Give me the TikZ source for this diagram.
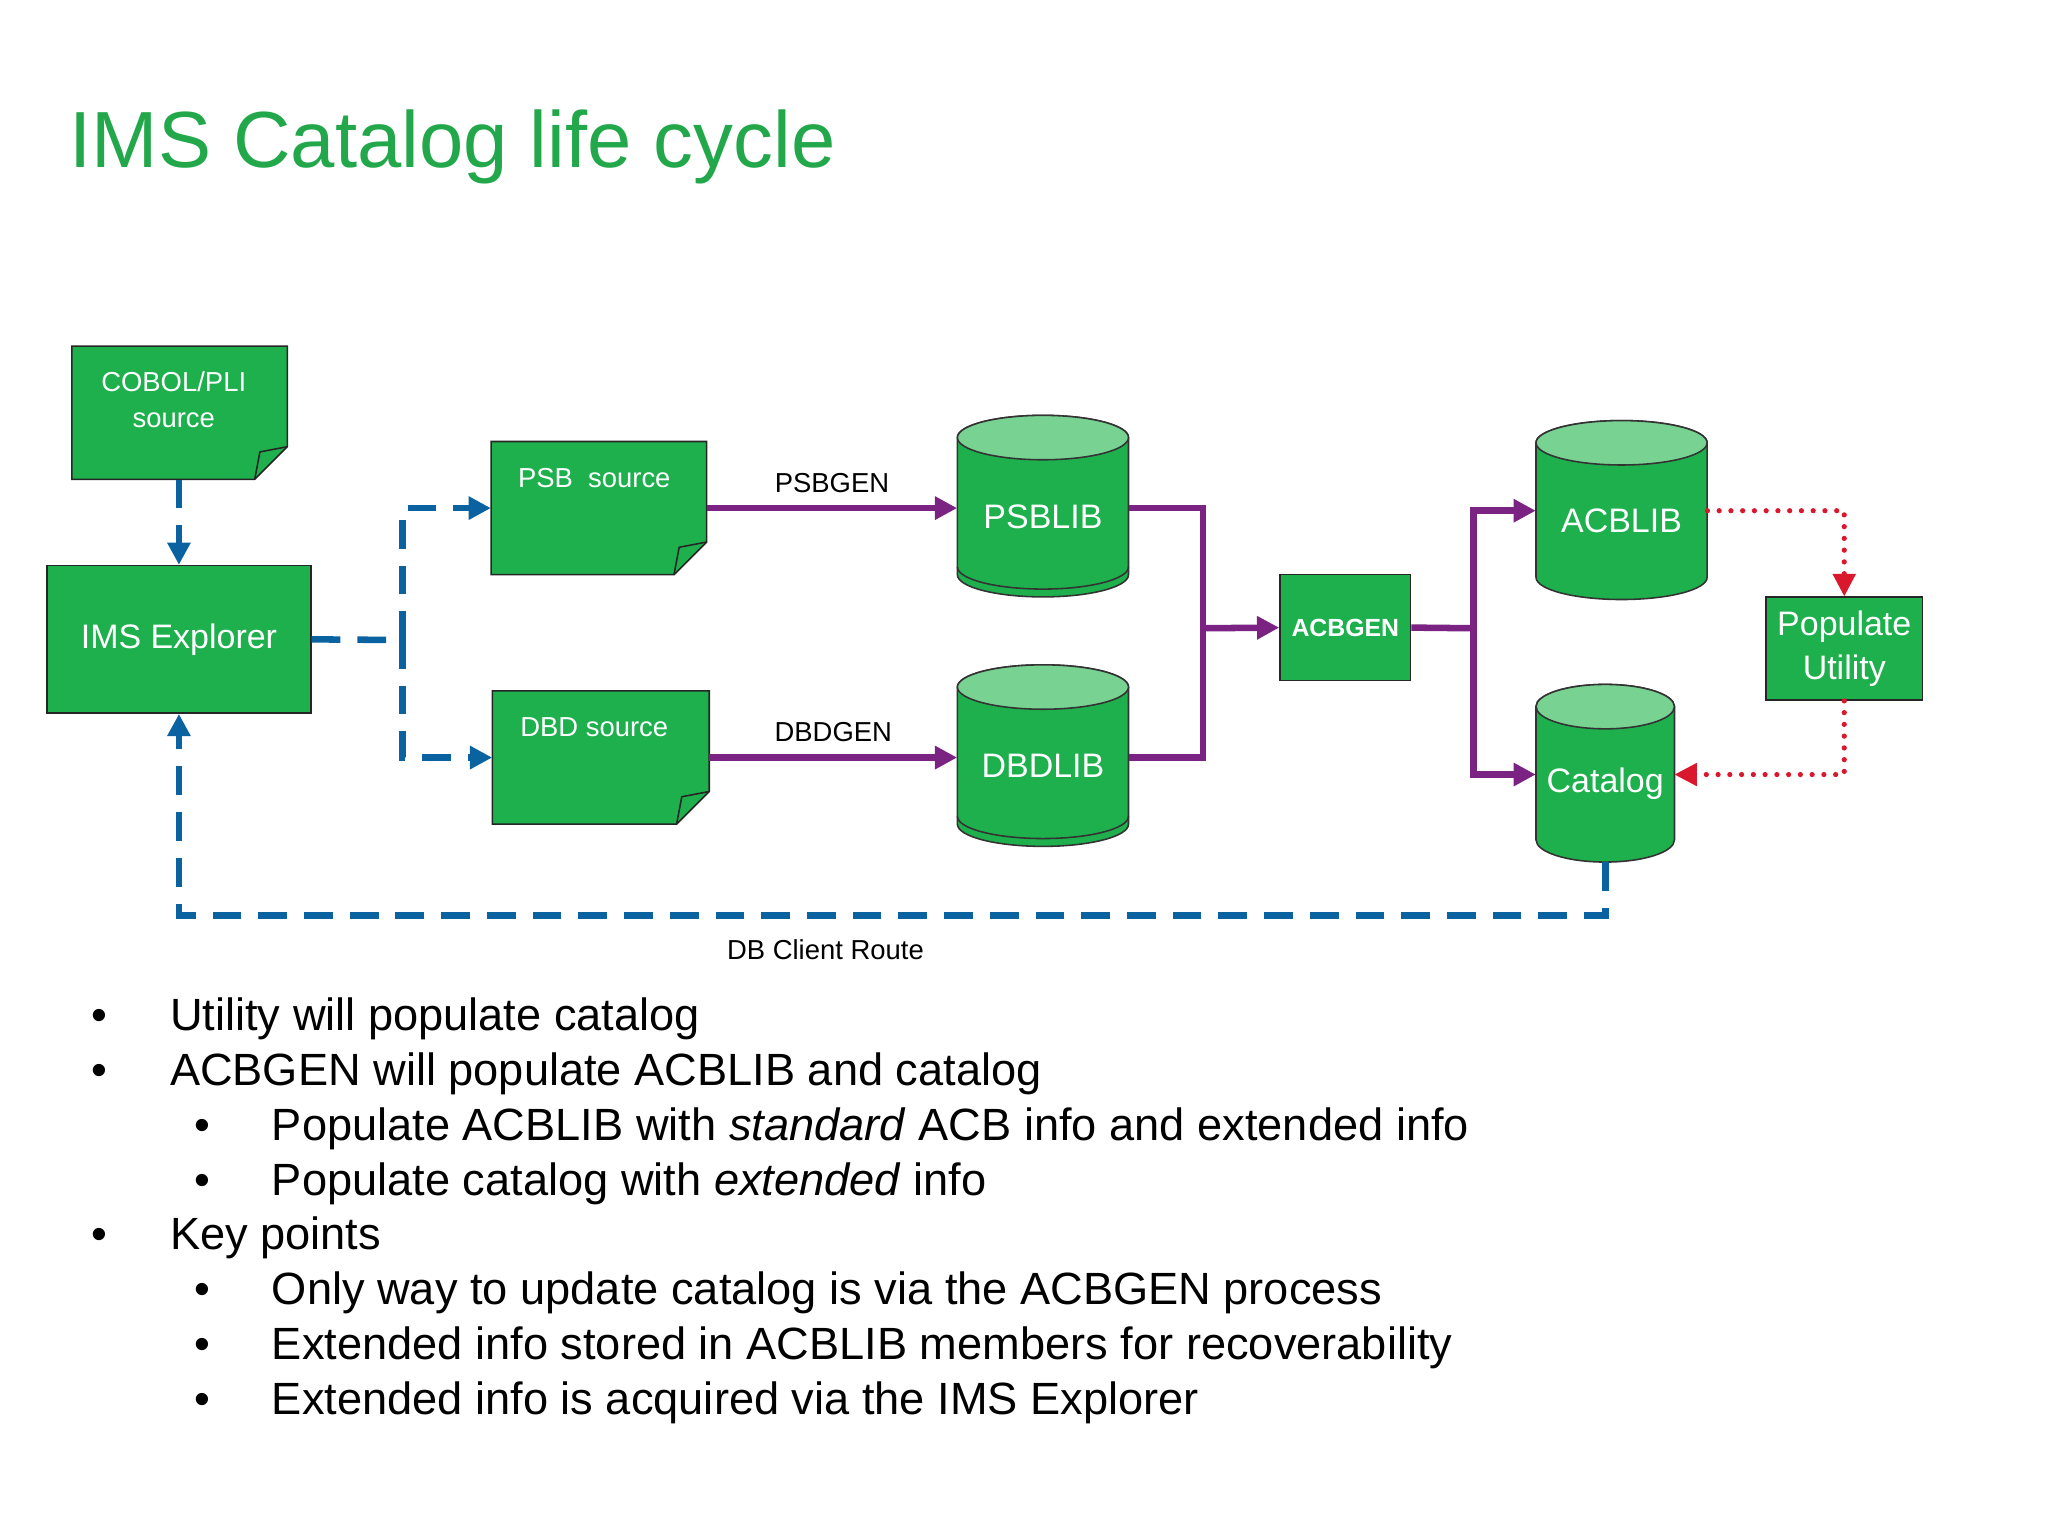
\documentclass[tikz,border=0pt]{standalone}
\usepackage{fontspec}
\setmainfont{Liberation Sans}
\usetikzlibrary{arrows.meta}
\definecolor{cg}{HTML}{1DB04D}
\definecolor{cgl}{HTML}{78D292}
\definecolor{tg}{HTML}{22A84A}
\definecolor{cb}{HTML}{0A62A0}
\definecolor{cp}{HTML}{7B2382}
\definecolor{cr}{HTML}{D9182D}
\newcommand\fs[1]{\fontsize{#1}{#1}\selectfont}
% name, cx, topedge, botedge, rx, label, double
\newcommand\mycyl[7]{%
 \node[inner sep=0,minimum width={2*#5},minimum height={#4-#3}] (#1) at (#2,{-(#3+#4)/2}) {};
 \path[fill=cg,draw=black!80,line width=1.2] (#2-#5,-#3-17) -- (#2-#5,-#4+17)
   arc[start angle=180,end angle=360,x radius=#5,y radius=17] -- (#2+#5,-#3-17)
   arc[start angle=0,end angle=180,x radius=#5,y radius=17] -- cycle;
 \path[fill=cgl,draw=black!80,line width=1.2] (#2,-#3-17) ellipse[x radius=#5,y radius=17];
 \ifx#7d\draw[black!80,line width=1.2] (#2-#5,-#4+23) arc[start angle=180,end angle=360,x radius=#5,y radius=17];\fi
 \node[text=white,font=\fs{26}] at (#2,{-(#3+#4)/2-8}) {#6};}
% name, x1,y1,x2,y2
\newcommand\mydoc[5]{%
 \node[inner sep=0,minimum width={#4-#2},minimum height={#5-#3}] (#1) at ({(#2+#4)/2},{-(#3+#5)/2}) {};
 \path[fill=cg,draw=black!85,line width=1.2] (#2,-#3) -- (#4,-#3) -- (#4,-#5+25) -- (#4-25,-#5) -- (#2,-#5) -- cycle;
 \draw[black!85,line width=1.2] (#4-25,-#5) -- (#4-21,-#5+21) -- (#4,-#5+25);}
\begin{document}
\begin{tikzpicture}[x=1pt,y=1pt,
  box/.style={draw=black!85,fill=cg,line width=1.2,text=white,inner sep=0},
  bl/.style={cb,line width=5,dash pattern=on 22pt off 13pt},
  pu/.style={cp,line width=5},
  rd/.style={cr,line width=4,dash pattern=on 0pt off 9pt,line cap=round},
  tip/.style={-{Triangle[length=17pt,width=17pt]}},
  lab/.style={font=\fs{21}},
  bt/.style={anchor=base west,font=\fs{34.6},inner sep=0}]
\useasboundingbox (0,0) rectangle (1568,-1176);
\node[anchor=base west,text=tg,font=\fs{61},inner sep=0] (title) at (53,-128) {IMS Catalog life cycle};
% documents
\mydoc{cobol}{55}{265}{220}{367}
\node[text=white,font=\fs{21},align=center] at (133,-306) {COBOL/PLI\\[6pt]source};
\mydoc{psb}{376}{338}{541}{440}
\node[text=white,font=\fs{21}] at (455,-366) {PSB\ \ source};
\mydoc{dbd}{377}{529}{543}{631}
\node[text=white,font=\fs{21}] at (455,-557) {DBD source};
\node[box,minimum width=202,minimum height=113,font=\fs{26}] (ims) at (137,-489.5) {IMS Explorer};
\node[box,minimum width=100,minimum height=81,font=\bfseries\fs{19}] (acbgen) at (1030,-480.5) {ACBGEN};
\node[box,minimum width=120,minimum height=79,font=\fs{26},align=center] (pop) at (1412,-496.5) {Populate\\[8pt]Utility};
\mycyl{psblib}{798.5}{318}{457}{65.5}{PSBLIB}{d}
\mycyl{dbdlib}{798.5}{509}{648}{65.5}{DBDLIB}{d}
\mycyl{acblib}{1241.5}{322}{459}{65.5}{ACBLIB}{n}
\mycyl{catalog}{1229}{524}{660}{53}{Catalog}{n}
% blue dashed
\draw[bl,tip] (cobol.south -| 137,0) -- (ims.north);
\coordinate (jb) at (308,-490);
\draw[bl] (ims.east) -- (jb);
\draw[bl,tip] (jb) |- (psb.west |- 0,-389);
\draw[bl,tip] (jb) |- (dbd.west |- 0,-580);
\coordinate (cr1) at (1229,-701);
\draw[bl,tip] (catalog.south) -- (cr1) -| (ims.south);
\node[lab] at (632,-727) {DB Client Route};
% purple
\draw[pu,tip] (psb.east |- 0,-389) -- (psblib.west |- 0,-389) node[midway,above=6pt,lab,text=black] {PSBGEN};
\draw[pu,tip] (dbd.east |- 0,-580) -- (dbdlib.west |- 0,-580) node[midway,above=6pt,lab,text=black] {DBDGEN};
\coordinate (jp) at (921,-481);
\draw[pu] (psblib.east |- 0,-389) -| (jp);
\draw[pu] (dbdlib.east |- 0,-580) -| (jp);
\draw[pu,tip] (jp) -- (acbgen.west);
\coordinate (jq) at (1128,-481);
\draw[pu] (acbgen.east) -- (jq);
\draw[pu,tip] (jq) |- (acblib.west |- 0,-391);
\draw[pu,tip] (jq) |- (catalog.west |- 0,-593);
% red dotted
\draw[rd] (acblib.east |- 0,-391) -| (1412,-445);
\draw[cr,-{Triangle[length=17pt,width=18pt]},line width=0] (1412,-440) -- (pop.north);
\draw[rd] (pop.south) |- (1299,-593);
\draw[cr,-{Triangle[length=17pt,width=18pt]},line width=0] (1298,-593) -- (catalog.east |- 0,-593);
% bullets
\foreach \y/\l/\t in {789/0/{Utility will populate catalog},831/0/{ACBGEN will populate ACBLIB and catalog},873/1/{Populate ACBLIB with \textit{standard} ACB info and extended info},915/1/{Populate catalog with \textit{extended} info},957/0/{Key points},999/1/{Only way to update catalog is via the ACBGEN process},1041/1/{Extended info stored in ACBLIB members for recoverability},1083/1/{Extended info is acquired via the IMS Explorer}}{
  \node[bt] at ({70+79*\l},-\y) {•};
  \node[bt] at ({130+78*\l},-\y) {\t};}
\end{tikzpicture}
\end{document}
